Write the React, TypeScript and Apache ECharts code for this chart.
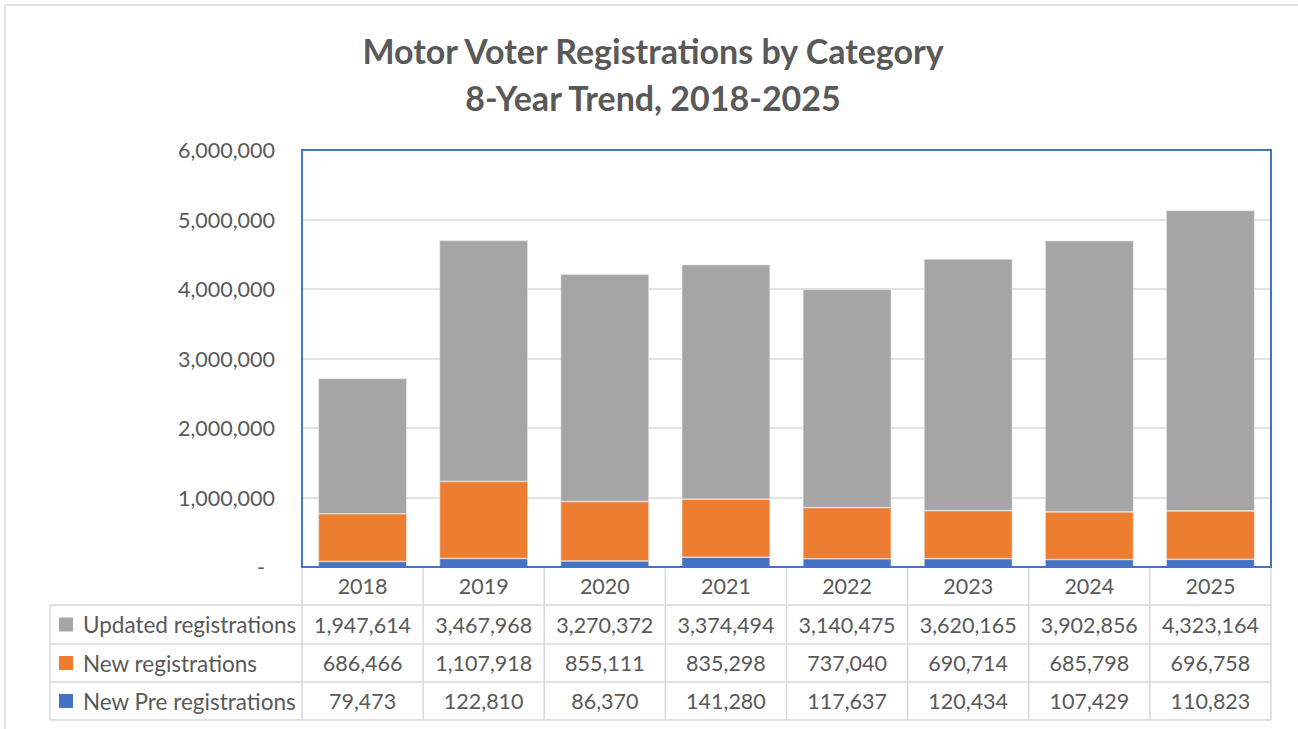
import React, { useEffect, useRef } from "react";
import * as echarts from "echarts";

const years = ["2018", "2019", "2020", "2021", "2022", "2023", "2024", "2025"];
const updatedRegistrations = [1947614, 3467968, 3270372, 3374494, 3140475, 3620165, 3902856, 4323164];
const newRegistrations = [686466, 1107918, 855111, 835298, 737040, 690714, 685798, 696758];
const newPreRegistrations = [79473, 122810, 86370, 141280, 117637, 120434, 107429, 110823];
const seriesNames = ["Updated registrations", "New registrations", "New Pre registrations"];
const seriesColors = ["#A5A5A5", "#ED7D31", "#4472C4"];
const titleLines = ["Motor Voter Registrations by Category", "8-Year Trend, 2018-2025"];

const FONT = "Lato, 'Open Sans', sans-serif";
const TEXT = "#595959";
const LINE = "#D9D9D9";

const fmt = (v: number) => v.toLocaleString("en-US");

export default function App() {
  const ref = useRef<HTMLDivElement>(null);
  useEffect(() => {
    if (!ref.current) return;
    const chart = echarts.init(ref.current, null, { renderer: "svg" });

    const gLeft = 302, gTop = 150, gRight = 1271, gBottom = 567;
    const colW = (gRight - gLeft) / years.length;
    const tableLeft = 50;
    const rowTops = [gBottom, 605, 644, 682, 720];
    const rows = [updatedRegistrations, newRegistrations, newPreRegistrations];

    const graphics: any[] = [];
    graphics.push({ type: "rect", shape: { x: 5, y: 5, width: 1300, height: 730 }, style: { fill: "none", stroke: LINE, lineWidth: 1.5 }, silent: true });
    titleLines.forEach((t, i) => {
      graphics.push({
        type: "text", x: 653, y: 50 + i * 47,
        style: { text: t, fill: TEXT, font: `bold 34px ${FONT}`, align: "center", verticalAlign: "middle" },
      });
    });
    for (let i = 0; i <= years.length; i++) {
      const x = gLeft + i * colW;
      graphics.push({ type: "line", shape: { x1: x, y1: gBottom, x2: x, y2: 720 }, style: { stroke: LINE, lineWidth: 1.5 } });
    }
    graphics.push({ type: "line", shape: { x1: tableLeft, y1: 605, x2: tableLeft, y2: 720 }, style: { stroke: LINE, lineWidth: 1.5 } });
    [605, 644, 682, 720].forEach((y) => {
      graphics.push({ type: "line", shape: { x1: tableLeft, y1: y, x2: gRight, y2: y }, style: { stroke: LINE, lineWidth: 1.5 } });
    });
    years.forEach((yr, i) => {
      graphics.push({
        type: "text", x: gLeft + (i + 0.5) * colW, y: (rowTops[0] + rowTops[1]) / 2,
        style: { text: yr, fill: TEXT, font: `21.5px ${FONT}`, align: "center", verticalAlign: "middle" },
      });
    });
    rows.forEach((vals, r) => {
      const cy = (rowTops[r + 1] + rowTops[r + 2]) / 2;
      graphics.push({ type: "rect", shape: { x: 59, y: cy - 7, width: 14, height: 14 }, style: { fill: seriesColors[r] } });
      graphics.push({
        type: "text", x: 83, y: cy,
        style: { text: seriesNames[r], fill: TEXT, font: `22.5px ${FONT}`, align: "left", verticalAlign: "middle" },
      });
      vals.forEach((v, i) => {
        graphics.push({
          type: "text", x: gLeft + (i + 0.5) * colW, y: cy,
          style: { text: fmt(v), fill: TEXT, font: `21.5px ${FONT}`, align: "center", verticalAlign: "middle" },
        });
      });
    });

    const barSeries = [
      { name: seriesNames[2], data: newPreRegistrations, color: seriesColors[2] },
      { name: seriesNames[1], data: newRegistrations, color: seriesColors[1] },
      { name: seriesNames[0], data: updatedRegistrations, color: seriesColors[0] },
    ].map((s) => ({
      type: "bar",
      name: s.name,
      stack: "total",
      data: s.data,
      barCategoryGap: "27%",
      itemStyle: { color: s.color, borderColor: "#E8E8E8", borderWidth: 0.6 },
    }));

    chart.setOption({
      animation: false,
      textStyle: { fontFamily: FONT },
      grid: {
        left: gLeft, top: gTop, width: gRight - gLeft, height: gBottom - gTop,
        show: true, borderColor: "#4472C4", borderWidth: 2, backgroundColor: "transparent", z: 3,
      },
      xAxis: {
        type: "category", data: years,
        axisLine: { show: false }, axisTick: { show: false }, axisLabel: { show: false },
      },
      yAxis: {
        type: "value", min: 0, max: 6000000, interval: 1000000,
        axisLine: { show: false }, axisTick: { show: false },
        splitLine: { lineStyle: { color: LINE, width: 1.5 } },
        axisLabel: {
          margin: 27, color: TEXT, fontSize: 21.5, fontFamily: FONT,
          formatter: (v: number) => (v === 0 ? "{z|-}" : fmt(v)),
          rich: { z: { padding: [0, 10, 0, 0], fontSize: 21.5, color: TEXT } },
        },
      },
      series: barSeries,
      graphic: graphics,
    });
    return () => chart.dispose();
  }, []);
  return <div ref={ref} style={{ position: "fixed", left: 0, top: 0, width: 1298, height: 729, background: "#fff" }} />;
}
